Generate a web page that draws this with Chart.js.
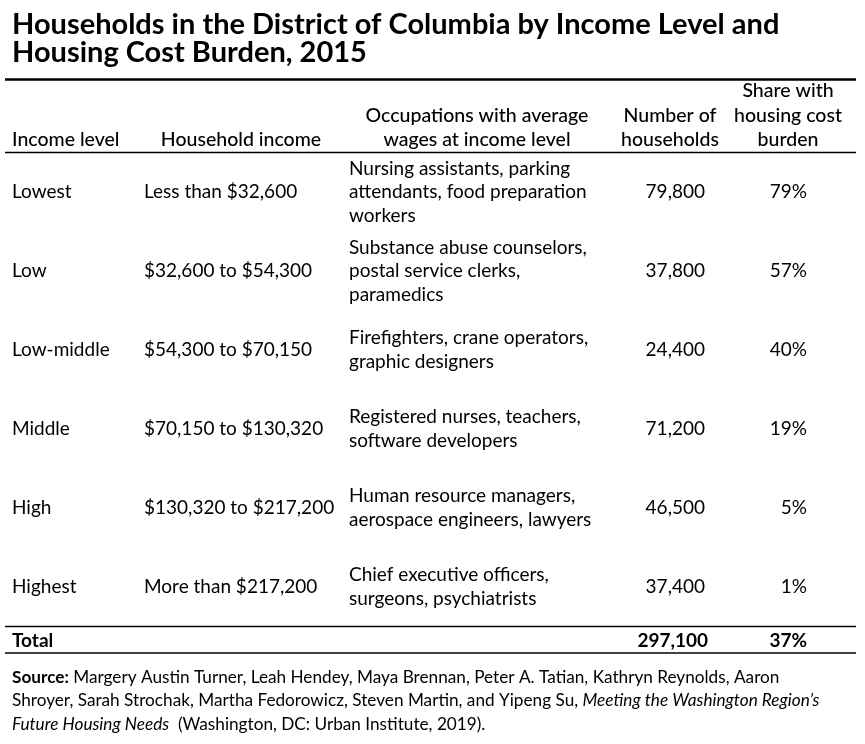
<!doctype html>
<html lang="en">
<head>
  <meta charset="UTF-8">
  <title>Households by Income Level</title>
  <script src="https://cdn.jsdelivr.net/npm/chart.js"></script>
  <style>
    html, body {
      margin: 0;
      padding: 0;
      background: #fff;
    }

    #chart_01 {
      display: block;
    }
  </style>
</head>
<body>
  <canvas id="chart_01" width="865" height="744"></canvas>
  <script type="application/javascript">
    const title_lines = [
      'Households in the District of Columbia by Income Level and',
      'Housing Cost Burden, 2015'
    ]

    const headers = [
      ['Income level'],
      ['Household income'],
      ['Occupations with average', 'wages at income level'],
      ['Number of', 'households'],
      ['Share with', 'housing cost', 'burden']
    ]

    const income_levels = ['Lowest', 'Low', 'Low-middle', 'Middle', 'High', 'Highest']

    const household_income = [
      'Less than $32,600',
      '$32,600 to $54,300',
      '$54,300 to $70,150',
      '$70,150 to $130,320',
      '$130,320 to $217,200',
      'More than $217,200'
    ]

    const occupations = [
      ['Nursing assistants, parking', 'attendants, food preparation', 'workers'],
      ['Substance abuse counselors,', 'postal service clerks,', 'paramedics'],
      ['Firefighters, crane operators,', 'graphic designers'],
      ['Registered nurses, teachers,', 'software developers'],
      ['Human resource managers,', 'aerospace engineers, lawyers'],
      ['Chief executive officers,', 'surgeons, psychiatrists']
    ]

    const households = [79800, 37800, 24400, 71200, 46500, 37400]
    const share_burden = [79, 57, 40, 19, 5, 1]

    const total_label = 'Total'
    const total_households = 297100
    const total_share = 37

    // source note, split into runs: [text, style]
    const source_lines = [
      [['Source:', 'bold'], [' Margery Austin Turner, Leah Hendey, Maya Brennan, Peter A. Tatian, Kathryn Reynolds, Aaron', '']],
      [['Shroyer, Sarah Strochak, Martha Fedorowicz, Steven Martin, and Yipeng Su, ', ''], ['Meeting the Washington Region\u2019s', 'italic']],
      [['Future Housing Needs', 'italic'], ['  (Washington, DC: Urban Institute, 2019).', '']]
    ]

    const FONT = 'Lato, "Open Sans", sans-serif'
    const fmt = v => v.toLocaleString('en-US')

    // column anchors (px) and alignment
    const col_x = [12, 144, 349, 705, 807]
    const head_x = [12, 241, 477, 670, 788]
    const head_align = ['left', 'center', 'center', 'center', 'center']

    const draw_text = (ctx, s, x, y, font, align) => {
      ctx.font = font
      ctx.textAlign = align
      ctx.fillText(s, x, y)
    }

    const rule = (ctx, x1, x2, y, w) => {
      ctx.beginPath()
      ctx.lineWidth = w
      ctx.strokeStyle = '#000'
      ctx.moveTo(x1, y)
      ctx.lineTo(x2, y)
      ctx.stroke()
    }

    const table_plugin = {
      id: 'table_plugin',
      beforeDraw(chart) {
        const {ctx} = chart
        ctx.save()
        ctx.fillStyle = '#fff'
        ctx.fillRect(0, 0, chart.width, chart.height)
        ctx.restore()
      },
      afterDraw(chart) {
        const {ctx, chartArea} = chart
        const y_scale = chart.scales.y
        const body = `19px ${FONT}`
        const head = `500 19.5px ${FONT}`
        const line_h = 23.5

        ctx.save()
        ctx.fillStyle = '#000'
        ctx.textBaseline = 'alphabetic'

        // title
        draw_text(ctx, title_lines[0], 12, 34, `bold 29px ${FONT}`, 'left')
        draw_text(ctx, title_lines[1], 12, 62, `bold 29px ${FONT}`, 'left')
        rule(ctx, 5, 856, 79.5, 2.5)

        // header, bottom aligned
        ctx.textBaseline = 'middle'
        headers.forEach((lines, c) => {
          lines.forEach((s, k) => {
            const y = 140 - (lines.length - 1 - k) * 24.5
            draw_text(ctx, s, head_x[c], y, head, head_align[c])
          })
        })
        rule(ctx, 5, 856, chartArea.top, 1.5)

        // body rows
        income_levels.forEach((lvl, i) => {
          const y = y_scale.getPixelForValue(i)
          draw_text(ctx, lvl, col_x[0], y, body, 'left')
          draw_text(ctx, household_income[i], col_x[1], y, body, 'left')
          const occ = occupations[i]
          occ.forEach((s, k) => {
            const oy = y + (k - (occ.length - 1) / 2) * line_h
            draw_text(ctx, s, col_x[2], oy, body, 'left')
          })
          draw_text(ctx, fmt(households[i]), col_x[3], y, body, 'right')
          draw_text(ctx, share_burden[i] + '%', col_x[4], y, body, 'right')
        })
        rule(ctx, 5, 856, chartArea.bottom, 1.5)

        // total row
        const ty = chartArea.bottom + 14
        const bold = `bold 19px ${FONT}`
        draw_text(ctx, total_label, col_x[0], ty, bold, 'left')
        draw_text(ctx, fmt(total_households), col_x[3] + 3, ty, bold, 'right')
        draw_text(ctx, total_share + '%', col_x[4], ty, bold, 'right')
        rule(ctx, 5, 856, chartArea.bottom + 26.5, 1.5)

        // source
        source_lines.forEach((runs, k) => {
          let x = 12
          const y = 677 + k * 23.5
          runs.forEach(([s, style]) => {
            ctx.font = `${style} 17.2px ${FONT}`.trim()
            ctx.textAlign = 'left'
            ctx.fillText(s, x, y)
            x += ctx.measureText(s).width
          })
        })
        ctx.restore()
      }
    }

    const config = {
      type: 'scatter',
      data: {
        labels: income_levels,
        datasets: []
      },
      options: {
        responsive: false,
        animation: false,
        events: [],
        layout: {
          padding: {top: 152.5, bottom: 117.5, left: 0, right: 0}
        },
        plugins: {
          legend: {display: false},
          tooltip: {enabled: false}
        },
        scales: {
          x: {type: 'linear', min: 0, max: 865, display: false},
          y: {type: 'category', labels: income_levels, offset: true, display: false}
        }
      },
      plugins: [table_plugin]
    }

    const myChart = new Chart(document.getElementById('chart_01'), config)
  </script>
</body>
</html>
